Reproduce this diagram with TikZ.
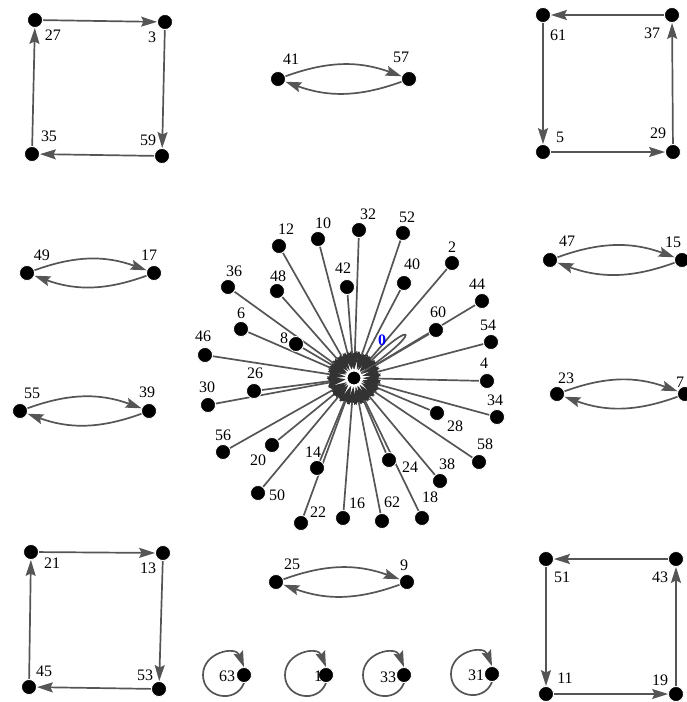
\documentclass[tikz,border=0pt]{standalone}
\usepackage{fontspec}
\setmainfont{Liberation Serif}
\usetikzlibrary{arrows.meta,backgrounds}
\definecolor{edgegray}{RGB}{85,85,85}

\tikzset{
  vtx/.style={circle, fill=black, draw=white, line width=0.8pt, minimum size=15pt, inner sep=0pt},
  lbl/.style={inner sep=0pt, font=\fontsize{16}{16}\selectfont},
  lblzero/.style={inner sep=0pt, text=blue, font=\fontsize{16}{16}\selectfont\bfseries},
  edgeline/.style={draw=edgegray, line width=1.7pt, -{Stealth[length=16pt,width=10pt,inset=2.5pt]}},
  staredge/.style={edgeline, -{Stealth[length=18pt,width=10pt,inset=2.5pt,color=black!80]}},
}

\begin{document}
\begin{tikzpicture}[x=1pt, y=-1pt]
\useasboundingbox (0,0) rectangle (687,702);

% star around 0
\node[vtx, line width=2pt] (v0) at (354,378) {};  \node[lblzero] (t0) at (382,340) {0};
\node[vtx] (v2) at (452,263) {};  \node[lbl] (t2) at (452,247) {2};
\node[vtx] (v4) at (487,381) {};  \node[lbl] (t4) at (484,363) {4};
\node[vtx] (v6) at (241,329) {};  \node[lbl] (t6) at (241,313) {6};
\node[vtx] (v8) at (296,344) {};  \node[lbl] (t8) at (284,338) {8};
\node[vtx] (v10) at (318,239) {}; \node[lbl] (t10) at (323,223) {10};
\node[vtx] (v12) at (279,246) {}; \node[lbl] (t12) at (286,229) {12};
\node[vtx] (v14) at (317,468) {}; \node[lbl] (t14) at (313,452) {14};
\node[vtx] (v16) at (343,518) {}; \node[lbl] (t16) at (357,503) {16};
\node[vtx] (v18) at (422,518) {}; \node[lbl] (t18) at (430,497) {18};
\node[vtx] (v20) at (272,445) {}; \node[lbl] (t20) at (258,460) {20};
\node[vtx] (v22) at (301,523) {}; \node[lbl] (t22) at (318,512) {22};
\node[vtx] (v24) at (389,460) {}; \node[lbl] (t24) at (410,467) {24};
\node[vtx] (v26) at (254,391) {}; \node[lbl] (t26) at (255,373) {26};
\node[vtx] (v28) at (437,413) {}; \node[lbl] (t28) at (455,426) {28};
\node[vtx] (v30) at (208,405) {}; \node[lbl] (t30) at (207,387) {30};
\node[vtx] (v32) at (359,230) {}; \node[lbl] (t32) at (368,214) {32};
\node[vtx] (v34) at (497,417) {}; \node[lbl] (t34) at (495,400) {34};
\node[vtx] (v36) at (228,287) {}; \node[lbl] (t36) at (234,271) {36};
\node[vtx] (v38) at (440,481) {}; \node[lbl] (t38) at (447,464) {38};
\node[vtx] (v40) at (404,283) {}; \node[lbl] (t40) at (412,264) {40};
\node[vtx] (v42) at (347,287) {}; \node[lbl] (t42) at (343,268) {42};
\node[vtx] (v44) at (482,301) {}; \node[lbl] (t44) at (477,284) {44};
\node[vtx] (v46) at (205,355) {}; \node[lbl] (t46) at (203,336) {46};
\node[vtx] (v48) at (277,291) {}; \node[lbl] (t48) at (278,276) {48};
\node[vtx] (v50) at (258,493) {}; \node[lbl] (t50) at (277,495) {50};
\node[vtx] (v52) at (403,233) {}; \node[lbl] (t52) at (407,217) {52};
\node[vtx] (v54) at (491,342) {}; \node[lbl] (t54) at (488,325) {54};
\node[vtx] (v56) at (223,452) {}; \node[lbl] (t56) at (223,435) {56};
\node[vtx] (v58) at (479,462) {}; \node[lbl] (t58) at (485,444) {58};
\node[vtx] (v60) at (436,330) {}; \node[lbl] (t60) at (438,312) {60};
\node[vtx] (v62) at (382,521) {}; \node[lbl] (t62) at (392,502) {62};

% four-cycles
\node[vtx] (v27) at (35,20) {};   \node[lbl] (t27) at (53,35) {27};
\node[vtx] (v3) at (165,22) {};   \node[lbl] (t3) at (152,37) {3};
\node[vtx] (v59) at (162,156) {}; \node[lbl] (t59) at (148,140) {59};
\node[vtx] (v35) at (32,154) {};  \node[lbl] (t35) at (49,136) {35};
\node[vtx] (v61) at (543,15) {};  \node[lbl] (t61) at (558,35) {61};
\node[vtx] (v37) at (672,15) {};  \node[lbl] (t37) at (652,33) {37};
\node[vtx] (v29) at (673,152) {}; \node[lbl] (t29) at (658,133) {29};
\node[vtx] (v5) at (543,152) {};  \node[lbl] (t5) at (560,137) {5};
\node[vtx] (v21) at (31,552) {};  \node[lbl] (t21) at (52,563) {21};
\node[vtx] (v13) at (163,553) {}; \node[lbl] (t13) at (148,568) {13};
\node[vtx] (v45) at (29,687) {};  \node[lbl] (t45) at (44,671) {45};
\node[vtx] (v53) at (159,689) {}; \node[lbl] (t53) at (145,675) {53};
\node[vtx] (v51) at (546,559) {}; \node[lbl] (t51) at (562,577) {51};
\node[vtx] (v43) at (676,559) {}; \node[lbl] (t43) at (660,577) {43};
\node[vtx] (v11) at (546,694) {}; \node[lbl] (t11) at (565,678) {11};
\node[vtx] (v19) at (676,694) {}; \node[lbl] (t19) at (660,680) {19};

% two-cycles
\node[vtx] (v41) at (278,79) {};  \node[lbl] (t41) at (291,59) {41};
\node[vtx] (v57) at (409,79) {};  \node[lbl] (t57) at (401,57) {57};
\node[vtx] (v49) at (27,273) {};  \node[lbl] (t49) at (42,255) {49};
\node[vtx] (v17) at (154,273) {}; \node[lbl] (t17) at (149,255) {17};
\node[vtx] (v55) at (20,411) {};  \node[lbl] (t55) at (32,393) {55};
\node[vtx] (v39) at (149,411) {}; \node[lbl] (t39) at (147,392) {39};
\node[vtx] (v47) at (550,260) {}; \node[lbl] (t47) at (567,241) {47};
\node[vtx] (v15) at (682,260) {}; \node[lbl] (t15) at (673,242) {15};
\node[vtx] (v23) at (557,394) {}; \node[lbl] (t23) at (566,378) {23};
\node[vtx] (v7) at (685,394) {};  \node[lbl] (t7) at (680,382) {7};
\node[vtx] (v25) at (276,582) {}; \node[lbl] (t25) at (292,564) {25};
\node[vtx] (v9) at (407,582) {};  \node[lbl] (t9) at (404,565) {9};

% fixed points, with the far left point of each loop
\node[vtx] (v63) at (244,675) {}; \node[lbl] (t63) at (227,676) {63};
\node[vtx] (v1) at (326,675) {};  \node[lbl] (t1) at (318,676) {1};
\node[vtx] (v33) at (404,675) {}; \node[lbl] (t33) at (388,677) {33};
\node[vtx] (v31) at (492,674) {}; \node[lbl] (t31) at (476,675) {31};
\coordinate (c63) at (203,675);
\coordinate (c1) at (285,675);
\coordinate (c33) at (363,675);
\coordinate (c31) at (451,674);

\begin{scope}[on background layer]
\foreach \n in {2,4,...,62} \draw[staredge] (v\n) -- (v0);
\draw[staredge] (v0.34) .. controls +(34:76pt) and +(45:76pt) .. (v0.45);

\draw[edgeline] (v27) -- (v3);
\draw[edgeline] (v3) -- (v59);
\draw[edgeline] (v59) -- (v35);
\draw[edgeline] (v35) -- (v27);
\draw[edgeline] (v37) -- (v61);
\draw[edgeline] (v61) -- (v5);
\draw[edgeline] (v5) -- (v29);
\draw[edgeline] (v29) -- (v37);
\draw[edgeline] (v21) -- (v13);
\draw[edgeline] (v13) -- (v53);
\draw[edgeline] (v53) -- (v45);
\draw[edgeline] (v45) -- (v21);
\draw[edgeline] (v43) -- (v51);
\draw[edgeline] (v51) -- (v11);
\draw[edgeline] (v11) -- (v19);
\draw[edgeline] (v19) -- (v43);

\draw[edgeline] (v41) to[bend left=20] (v57);
\draw[edgeline] (v57) to[bend left=20] (v41);
\draw[edgeline] (v49) to[bend left=20] (v17);
\draw[edgeline] (v17) to[bend left=20] (v49);
\draw[edgeline] (v55) to[bend left=20] (v39);
\draw[edgeline] (v39) to[bend left=20] (v55);
\draw[edgeline] (v47) to[bend left=20] (v15);
\draw[edgeline] (v15) to[bend left=20] (v47);
\draw[edgeline] (v23) to[bend left=20] (v7);
\draw[edgeline] (v7) to[bend left=20] (v23);
\draw[edgeline] (v25) to[bend left=20] (v9);
\draw[edgeline] (v9) to[bend left=20] (v25);

\foreach \n in {63,1,33,31}
  \draw[edgeline] (v\n.-90) .. controls +(249:23pt) and +(-90:23pt) .. (c\n)
    .. controls +(90:23pt) and +(111:23pt) .. (v\n.90);
\end{scope}
\end{tikzpicture}
\end{document}
